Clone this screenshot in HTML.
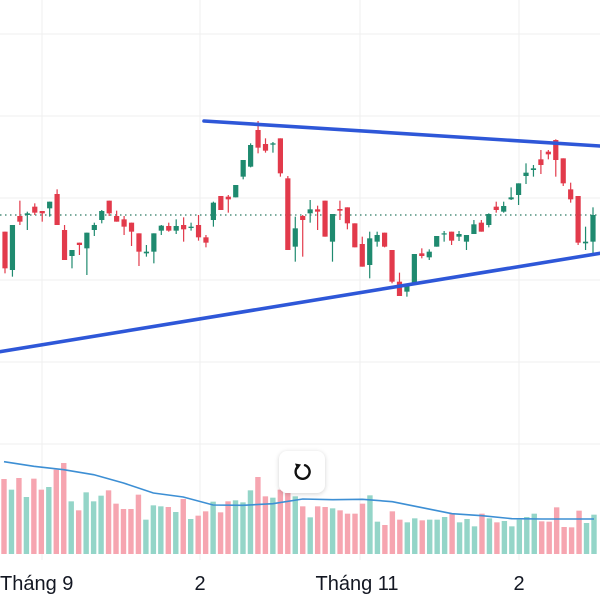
<!DOCTYPE html>
<html><head><meta charset="utf-8">
<style>
html,body{margin:0;padding:0;background:#fff;}
#wrap{position:relative;width:600px;height:600px;overflow:hidden;font-family:"Liberation Sans",sans-serif;}
</style></head>
<body>
<div id="wrap">
<svg id="chart" width="600" height="600"></svg>
<div style="position:absolute;left:279px;top:451px;width:46px;height:42px;background:#fff;border-radius:8px;box-shadow:0 1px 5px rgba(0,0,0,0.18);display:flex;align-items:center;justify-content:center;">
<svg width="24" height="24" viewBox="0 0 24 24"><path d="M8 6.5 A7 7 0 1 0 15 5.2" fill="none" stroke="#111" stroke-width="2.4" stroke-linecap="round"/><path d="M5 3.5 L11 4.5 L7.5 9.5 Z" fill="#111"/></svg>
</div>
</div>
<script>
const kind=["r","g","r","g","r","r","g","r","r","g","r","g","g","g","r","r","r","r","r","g","g","g","r","g","r","g","r","r","g","r","r","g","g","g","r","r","g","r","r","g","r","g","r","r","g","r","r","r","r","g","g","r","r","r","g","g","r","g","g","g","r","g","g","g","r","g","r","g","g","g","g","g","r","r","r","r","r","r","g","g"];
const openP=[63.5,52.0,68.2,68.5,71.0,69.7,70.5,74.8,64.0,56.2,60.2,58.5,64.0,67.0,72.8,68.2,67.2,66.2,63.0,57.0,57.5,63.8,65.2,63.8,65.5,64.6,65.5,61.8,67.0,74.2,74.0,73.8,80.0,83.0,94.0,89.8,89.6,91.5,79.5,59.0,68.2,69.0,70.2,72.8,60.5,70.3,70.8,66.0,59.8,53.5,60.5,63.2,58.0,48.5,45.5,47.8,57.0,55.8,59.0,62.8,63.5,62.0,60.5,62.8,66.2,65.5,71.0,69.5,73.2,74.5,80.2,82.0,85.2,87.5,91.0,85.5,76.2,74.2,60.0,60.5];
const highP=[63.5,65.5,72.8,69.5,72.0,69.7,72.5,76.2,65.5,58.0,60.2,63.2,66.2,70.0,72.8,69.8,68.2,66.2,63.0,59.5,63.0,65.5,66.2,67.2,67.8,66.2,68.5,62.5,72.5,74.2,74.5,77.5,85.0,90.0,96.7,91.5,90.4,91.5,80.2,68.0,68.5,73.0,71.3,72.8,68.8,72.8,70.8,66.0,62.0,63.5,63.5,63.2,58.0,51.2,47.5,56.8,58.5,58.2,62.2,63.7,63.5,63.7,62.5,67.0,67.0,69.0,72.5,72.5,76.8,78.0,84.0,83.5,88.0,88.0,91.2,85.5,78.2,74.2,65.0,70.8];
const lowP=[51.0,50.0,65.5,64.0,68.5,66.5,68.0,65.5,55.0,52.5,56.5,50.5,62.2,66.0,68.2,66.5,62.5,59.2,53.2,56.0,54.0,62.5,63.5,62.8,60.5,63.8,60.8,58.8,65.0,70.0,69.2,73.8,79.2,82.8,87.0,87.2,87.2,80.0,58.0,54.5,56.0,66.2,64.0,62.0,54.5,67.0,64.2,58.8,53.0,49.5,59.0,58.8,48.0,44.2,44.0,47.8,55.5,55.0,59.0,60.5,59.5,60.7,58.0,62.8,63.5,64.8,69.2,69.2,73.0,71.5,77.8,80.0,80.8,85.2,80.0,77.2,72.2,59.5,58.0,57.0];
const closeP=[52.5,65.5,66.5,69.0,69.2,69.0,72.5,65.5,55.0,58.0,59.5,63.2,65.5,69.7,69.0,66.5,65.0,63.5,57.5,57.5,63.0,65.3,63.8,65.2,64.2,65.0,61.8,60.2,72.2,70.0,73.2,77.5,85.0,89.5,88.7,87.8,90.0,81.0,58.0,64.5,67.0,70.2,69.5,62.0,68.8,69.8,66.0,58.8,53.0,61.5,62.5,59.0,48.5,44.2,47.5,56.8,56.2,57.5,62.2,63.0,60.8,62.8,62.5,65.7,63.5,68.8,70.0,71.2,73.8,78.0,81.2,82.5,83.5,86.7,85.0,78.0,73.2,60.2,60.5,68.5];
const refPrice=68.5;
const volKind=["r","g","r","g","r","r","g","r","r","g","r","g","g","g","r","r","r","r","r","g","g","g","r","g","r","g","r","r","g","r","r","g","g","g","r","r","g","r","r","g","r","g","r","r","g","r","r","r","r","g","g","r","r","r","g","g","r","g","g","g","r","g","g","g","r","g","r","g","g","g","g","g","r","r","r","r","r","r","g","g"];
const volTops=[118,150,115,172,117,150,142,90,70,185,212,158,185,168,152,192,208,208,165,240,197,200,202,217,178,238,228,215,186,218,185,182,188,152,112,170,174,150,160,170,200,233,200,202,206,212,222,222,192,167,246,256,215,240,248,236,242,240,240,232,222,248,238,260,222,236,248,244,260,240,232,222,245,246,203,262,263,213,250,225];
const volume=volTops.map(t=>343-t);
const maTops=[66,80,90,105,130,160,172,196,197,192,178,180,179,186,204,222,228,237,238,238,238];
const maValues=maTops.map(t=>343-t);
const maStep=4;
const xLabels=["Tháng 9","2","Tháng 11","2"];
const xLabelPos=[42,200,360,519];

const NS="http://www.w3.org/2000/svg";
const svg=document.getElementById('chart');
function mk(tag,attrs,parent){const e=document.createElementNS(NS,tag);for(const k in attrs)e.setAttribute(k,attrs[k]);(parent||svg).appendChild(e);return e;}
const n=openP.length;
const xC=i=>5+i*(588/(n-1));
const yP=p=>110+(100-p)*10/3;
const volBase=554;
const yV=v=>volBase-v/3;
const xV=i=>4+i*(590/(volume.length-1));

// grid
const grid=mk('g',{});


[34,116,198,280,362,444].forEach(y=>{const l=mk('line',{x1:0,x2:600,y1:y,y2:y,stroke:'#efefef','stroke-width':1},grid);});
xLabelPos.forEach(x=>{const l=mk('line',{x1:x,x2:x,y1:0,y2:560,stroke:'#efefef','stroke-width':1},grid);});

// volume
const vg=mk('g',{});


volume.forEach((v,i)=>{const r=mk('rect',{x:xV(i)-2.7,y:yV(v),width:5.4,height:volBase-yV(v),fill:volKind[i]==='r'?'#f6a5b0':'#94d5c8'},vg);

});
let d='';
maValues.forEach((v,k)=>{const i=Math.min(k*maStep,volume.length-1);d+=(k?'L':'M')+xV(i)+' '+yV(v);});
const ma=mk('path',{d:d,fill:'none',stroke:'#3d8fd4','stroke-width':1.6});



// reference dotted line
const ref=mk('line',{x1:0,x2:600,y1:yP(refPrice),y2:yP(refPrice),stroke:'#2d7a64','stroke-width':1.3,'stroke-dasharray':'1.5 3.5'});



// candles
const cg=mk('g',{});


for(let i=0;i<n;i++){
  const col=kind[i]==='r'?'#e23a4b':'#1f8a6f';
  const g=mk('g',{},cg);
  
  
  const x=xC(i);
  mk('line',{x1:x,x2:x,y1:yP(highP[i]),y2:yP(lowP[i]),stroke:col,'stroke-width':1.2},g);
  const t=yP(Math.max(openP[i],closeP[i])),b=yP(Math.min(openP[i],closeP[i]));
  mk('rect',{x:x-2.6,y:t,width:5.2,height:Math.max(1.2,b-t),fill:col},g);
}

// trendlines
const t1=mk('line',{x1:204,y1:121,x2:600,y2:146,stroke:'#2e57d8','stroke-width':3.6,'stroke-linecap':'round'});


const t2=mk('line',{x1:-2,y1:352,x2:602,y2:253,stroke:'#2e57d8','stroke-width':3.6,'stroke-linecap':'round'});



// x labels
xLabels.forEach((s,i)=>{const anchor=i===0?'start':'middle';const x=i===0?0:xLabelPos[i]-(i===2?3:0);
const t=mk('text',{x:x,y:590,'font-size':20,fill:'#131722','text-anchor':anchor,'font-family':'Liberation Sans, sans-serif'});
t.textContent=s;

});
</script>
</body></html>
